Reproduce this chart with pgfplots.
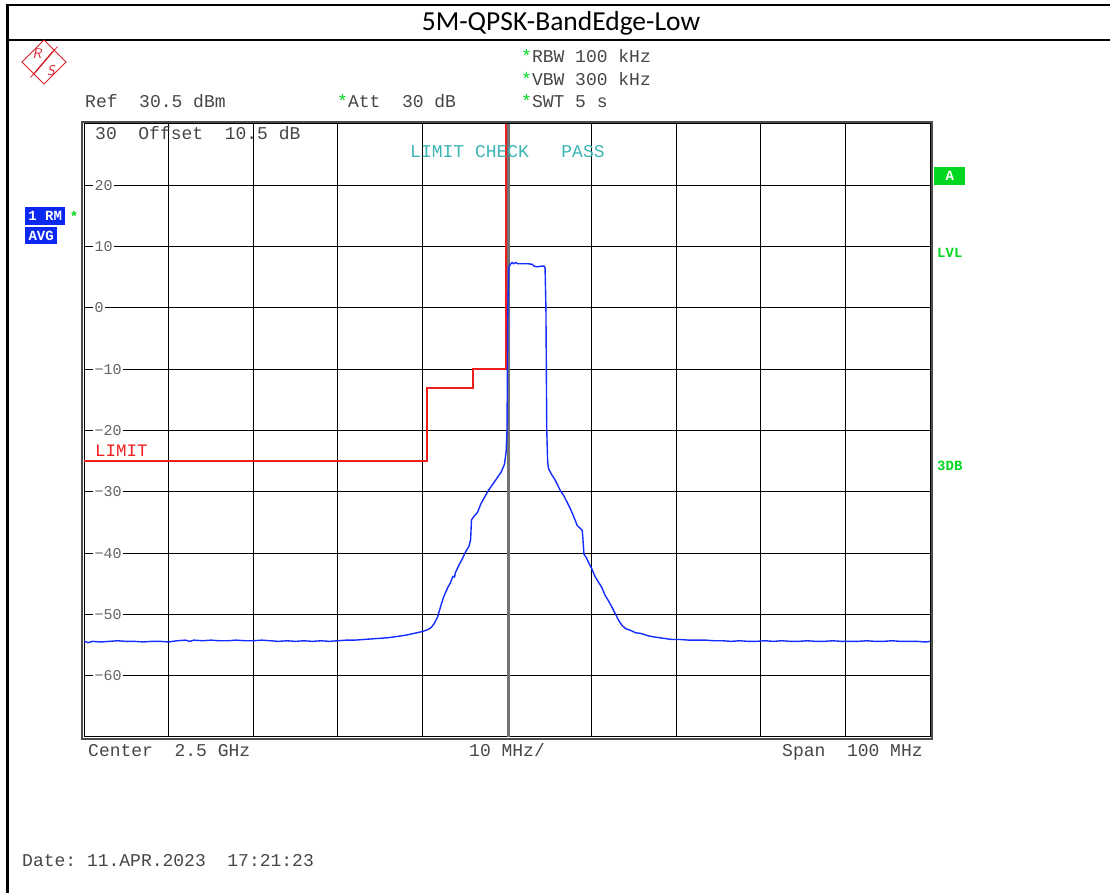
\documentclass[border=0pt]{standalone}
\usepackage{pgfplots}
\pgfplotsset{compat=1.18}
\usepackage{fontspec}
\setmainfont{Liberation Mono}
\newfontfamily\titlefont{Carlito}
\newfontfamily\mono{Liberation Mono}
\frenchspacing

\definecolor{trace}{RGB}{20,45,255}
\definecolor{limred}{RGB}{240,30,30}
\definecolor{tealtxt}{RGB}{60,180,180}
\definecolor{ggreen}{RGB}{0,215,30}
\definecolor{txt}{RGB}{70,70,70}
\definecolor{ticktxt}{RGB}{100,100,100}
\definecolor{rsred}{RGB}{215,30,40}
\definecolor{boxblue}{RGB}{10,40,240}

\newcommand{\instr}{\mono\fontsize{18}{18}\selectfont}
\newcommand{\sidefont}{\mono\bfseries\fontsize{14}{14}\selectfont}

\begin{document}
\begin{tikzpicture}[x=1pt,y=1pt]
\path[use as bounding box] (0,0) rectangle (1110,893);

% outer frame and title
\draw[line width=2.5pt] (7.5,0) -- (7.5,888) -- (1110,888);
\draw[line width=2.5pt] (7.5,853) -- (1110,853);
\node[font=\titlefont\fontsize{27.5}{27.5}\selectfont] at (561,870) {5M-QPSK-BandEdge-Low};

% R&S logo
\begin{scope}[rsred]
\draw[line width=1pt] (44,853) -- (66,831) -- (44,809) -- (22,831) -- cycle;
\foreach \d in {-2.5,0,2.5}
  \draw[line width=0.7pt] (55+\d,844+\d) -- (33+\d,818+\d);
\node[font=\sffamily\itshape\fontsize{14}{14}\selectfont] at (37,839) {R};
\node[font=\sffamily\itshape\fontsize{14}{14}\selectfont] at (51,822) {S};
\end{scope}

\begin{axis}[
  at={(84pt,156pt)}, anchor=south west,
  scale only axis, width=846pt, height=613pt,
  xmin=2450, xmax=2550, ymin=-70, ymax=30,
  xtick={2450,2460,...,2550}, xticklabels={},
  ytick={-60,-50,...,20},
  yticklabels={−60,−50,−40,−30,−20,−10,0,10,20},
  yticklabel style={anchor=west, xshift=9pt, fill=white, inner xsep=1.5pt,
    inner ysep=1pt, text=ticktxt, font=\mono\fontsize{15}{15}\selectfont},
  major tick length=0pt,
  grid=major, grid style={black, line width=1pt},
  axis line style={black, line width=1pt},
]
\draw[black!55, line width=3pt] (axis cs:2500.2,-70) -- (axis cs:2500.2,30);

% limit line
\addplot[color=limred, line width=2pt] coordinates {
 (2450,-25) (2490.5,-25) (2490.5,-13) (2496,-13) (2496,-10) (2499.9,-10) (2499.9,30)};

% trace 1 RM AVG
\addplot[color=trace, line width=1.4pt] coordinates {
 (2450.0,-54.4) (2450.5,-54.6) (2451.0,-54.4) (2452.0,-54.5) (2453.0,-54.4)
 (2454.0,-54.3) (2455.0,-54.4) (2456.0,-54.4) (2457.0,-54.5) (2458.0,-54.4)
 (2459.0,-54.4) (2460.0,-54.5) (2461.0,-54.3) (2462.0,-54.2) (2462.5,-54.4)
 (2463.0,-54.2) (2464.0,-54.3) (2465.0,-54.2) (2466.0,-54.3) (2467.0,-54.3)
 (2468.0,-54.2) (2469.0,-54.3) (2470.0,-54.3) (2471.0,-54.2) (2472.0,-54.3)
 (2473.0,-54.4) (2474.0,-54.3) (2475.0,-54.4) (2476.0,-54.3) (2477.0,-54.4)
 (2478.0,-54.3) (2479.0,-54.4) (2480.0,-54.3) (2481.0,-54.2) (2482.0,-54.2)
 (2483.0,-54.1) (2484.0,-54.0) (2485.0,-53.9) (2486.0,-53.8) (2487.0,-53.6)
 (2488.0,-53.4) (2489.0,-53.1) (2490.0,-52.8) (2490.6,-52.5) (2491.0,-52.2)
 (2491.4,-51.5) (2491.8,-50.4) (2492.2,-48.5) (2492.5,-47.2) (2493.0,-45.6)
 (2493.3,-44.9) (2493.6,-43.8) (2493.8,-43.9) (2493.9,-43.2) (2494.3,-42.0)
 (2494.7,-41.0) (2495.1,-39.8) (2495.5,-38.9) (2495.7,-37.8) (2495.8,-34.6)
 (2496.1,-34.0) (2496.5,-33.4) (2496.9,-32.0) (2497.3,-31.0) (2497.8,-29.8)
 (2498.4,-28.6) (2498.8,-27.8) (2499.3,-26.8) (2499.7,-25.5) (2499.9,-23.5)
 (2500.0,-20.0) (2500.05,-10.0) (2500.1,0.0) (2500.2,6.6) (2500.4,7.1)
 (2500.6,7.4) (2500.8,7.2) (2501.0,7.4) (2501.3,7.2) (2502.0,7.2)
 (2502.5,7.2) (2503.0,7.1) (2503.2,6.8) (2503.6,6.7) (2504.0,6.8)
 (2504.4,6.8) (2504.5,6.5) (2504.6,0.0) (2504.7,-20.0) (2504.8,-25.0)
 (2504.9,-26.2) (2505.2,-27.0) (2505.7,-28.1) (2506.3,-29.8) (2506.7,-30.6)
 (2507.1,-31.7) (2507.5,-32.8) (2507.9,-34.1) (2508.3,-35.5) (2508.9,-36.3)
 (2509.1,-40.2) (2509.4,-40.8) (2509.7,-41.7) (2510.0,-42.5) (2510.4,-43.8)
 (2510.8,-44.7) (2511.2,-45.6) (2511.6,-46.9) (2512.0,-47.8) (2512.4,-48.8)
 (2512.8,-49.9) (2513.2,-51.0) (2513.6,-51.8) (2514.0,-52.3) (2514.6,-52.6)
 (2515.2,-53.0) (2515.8,-53.1) (2516.7,-53.5) (2517.5,-53.7) (2518.5,-53.9)
 (2519.5,-54.1) (2520.5,-54.1) (2521.5,-54.2) (2522.5,-54.2) (2523.5,-54.2)
 (2524.5,-54.3) (2525.5,-54.3) (2526.5,-54.4) (2527.5,-54.3) (2528.5,-54.4)
 (2529.5,-54.4) (2530.5,-54.3) (2531.5,-54.4) (2532.5,-54.3) (2533.5,-54.4)
 (2534.5,-54.4) (2535.5,-54.3) (2536.5,-54.4) (2537.5,-54.4) (2538.5,-54.3)
 (2539.5,-54.4) (2540.5,-54.4) (2541.5,-54.4) (2542.5,-54.3) (2543.5,-54.4)
 (2544.5,-54.4) (2545.5,-54.3) (2546.5,-54.4) (2547.5,-54.4) (2548.5,-54.4)
 (2549.5,-54.5) (2550.0,-54.4)
};
\end{axis}
\draw[black!70, line width=2pt] (82,154) rectangle (932,771);

% instrument texts
\begin{scope}[every node/.style={anchor=base west, inner sep=0pt, text=txt, font=\instr}]
\node at (521,830) {\textcolor{ggreen}{*}RBW 100 kHz};
\node at (521,807) {\textcolor{ggreen}{*}VBW 300 kHz};
\node at (85,785) {Ref~~30.5 dBm};
\node at (337,785) {\textcolor{ggreen}{*}Att~~30 dB};
\node at (521,785) {\textcolor{ggreen}{*}SWT 5 s};
\node at (95,753) {30~~Offset~~10.5 dB};
\node[text=tealtxt] at (410,735) {LIMIT CHECK~~~PASS};
\node[text=limred, font=\mono\fontsize{17.5}{17.5}\selectfont] at (95,436) {LIMIT};
\node at (88,136) {Center~~2.5 GHz};
\node at (469,136) {10 MHz/};
\node at (782,136) {Span~~100 MHz};
\node at (22,26) {Date: 11.APR.2023~~17:21:23};
\end{scope}

% side labels
\node[fill=boxblue, text=white, font=\sidefont, anchor=north west, inner sep=0pt,
  minimum width=40pt, minimum height=18pt] at (25,686) {1 RM};
\node[fill=boxblue, text=white, font=\sidefont, anchor=north west, inner sep=0pt,
  minimum width=32pt, minimum height=17pt] at (25,666) {AVG};
\node[text=ggreen, font=\sidefont] at (74,677) {*};
\node[fill=ggreen, text=white, font=\sidefont, anchor=north west, inner sep=0pt,
  minimum width=31pt, minimum height=18pt] at (934,726) {A};
\node[text=ggreen, font=\sidefont, anchor=west, inner sep=0pt] at (937,640) {LVL};
\node[text=ggreen, font=\sidefont, anchor=west, inner sep=0pt] at (937,427) {3DB};
\end{tikzpicture}
\end{document}
